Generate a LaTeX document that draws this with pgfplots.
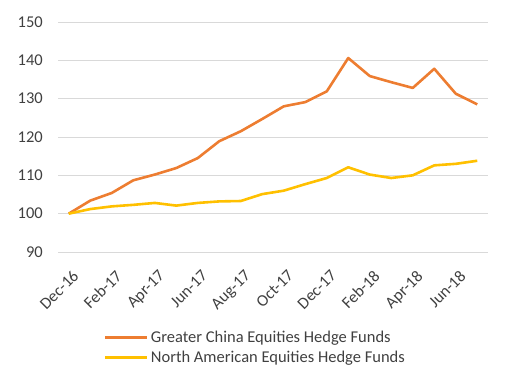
\documentclass[border=0pt]{standalone}
\usepackage{fontspec}
\setmainfont{Carlito}
\usepackage{pgfplots}
\pgfplotsset{compat=1.18}
\definecolor{gcorange}{HTML}{ED7D31}
\definecolor{nagold}{HTML}{FFC000}
\definecolor{txtgray}{HTML}{404040}
\definecolor{gridgray}{HTML}{D9D9D9}
\begin{document}
\begin{tikzpicture}
\path[use as bounding box] (0,0) rectangle (510pt,375pt);
\begin{axis}[
  at={(58pt,123pt)}, anchor=south west,
  scale only axis, width=430pt, height=230pt,
  xmin=-0.5, xmax=19.5, ymin=90, ymax=150,
  ytick={90,100,...,150},
  xtick={0,2,...,18},
  xticklabels={Dec-16,Feb-17,Apr-17,Jun-17,Aug-17,Oct-17,Dec-17,Feb-18,Apr-18,Jun-18},
  x tick label style={xshift=3pt, yshift=-17pt, rotate=45, anchor=north east, inner sep=0pt},
  y tick label style={anchor=east, inner sep=0pt, xshift=-15pt},
  /pgf/number format/assume math mode=true,
  tick label style={font=\fontsize{16.5}{18}\selectfont, text=txtgray},
  ymajorgrids, major grid style={gridgray, line width=0.8pt},
  axis line style={draw=none},
  major tick length=0pt,
  legend style={at={(0.459,-0.332)}, anchor=north, draw=none, fill=none,
    font=\fontsize{16.5}{18}\selectfont, text=txtgray, row sep=4pt,
    inner sep=0pt, nodes={inner sep=2pt},
    cells={anchor=west}},
  legend cell align=left,
  legend image code/.code={\draw[#1, line width=3pt] (0pt,0pt) -- (42pt,0pt);},
]
\addplot[gcorange, line width=2.6pt, line join=round] coordinates {
(0,100) (1,103.4) (2,105.4) (3,108.7) (4,110.2) (5,111.9) (6,114.5) (7,118.9)
(8,121.5) (9,124.7) (10,128.0) (11,129.1) (12,131.9) (13,140.6) (14,135.9)
(15,134.3) (16,132.8) (17,137.8) (18,131.3) (19,128.5)};
\addlegendentry{Greater China Equities Hedge Funds}
\addplot[nagold, line width=2.6pt, line join=round] coordinates {
(0,100) (1,101.2) (2,101.9) (3,102.3) (4,102.8) (5,102.1) (6,102.8) (7,103.2)
(8,103.3) (9,105.1) (10,106.0) (11,107.7) (12,109.3) (13,112.1) (14,110.2)
(15,109.3) (16,110.0) (17,112.6) (18,113.0) (19,113.8)};
\addlegendentry{North American Equities Hedge Funds}
\end{axis}
\end{tikzpicture}
\end{document}
